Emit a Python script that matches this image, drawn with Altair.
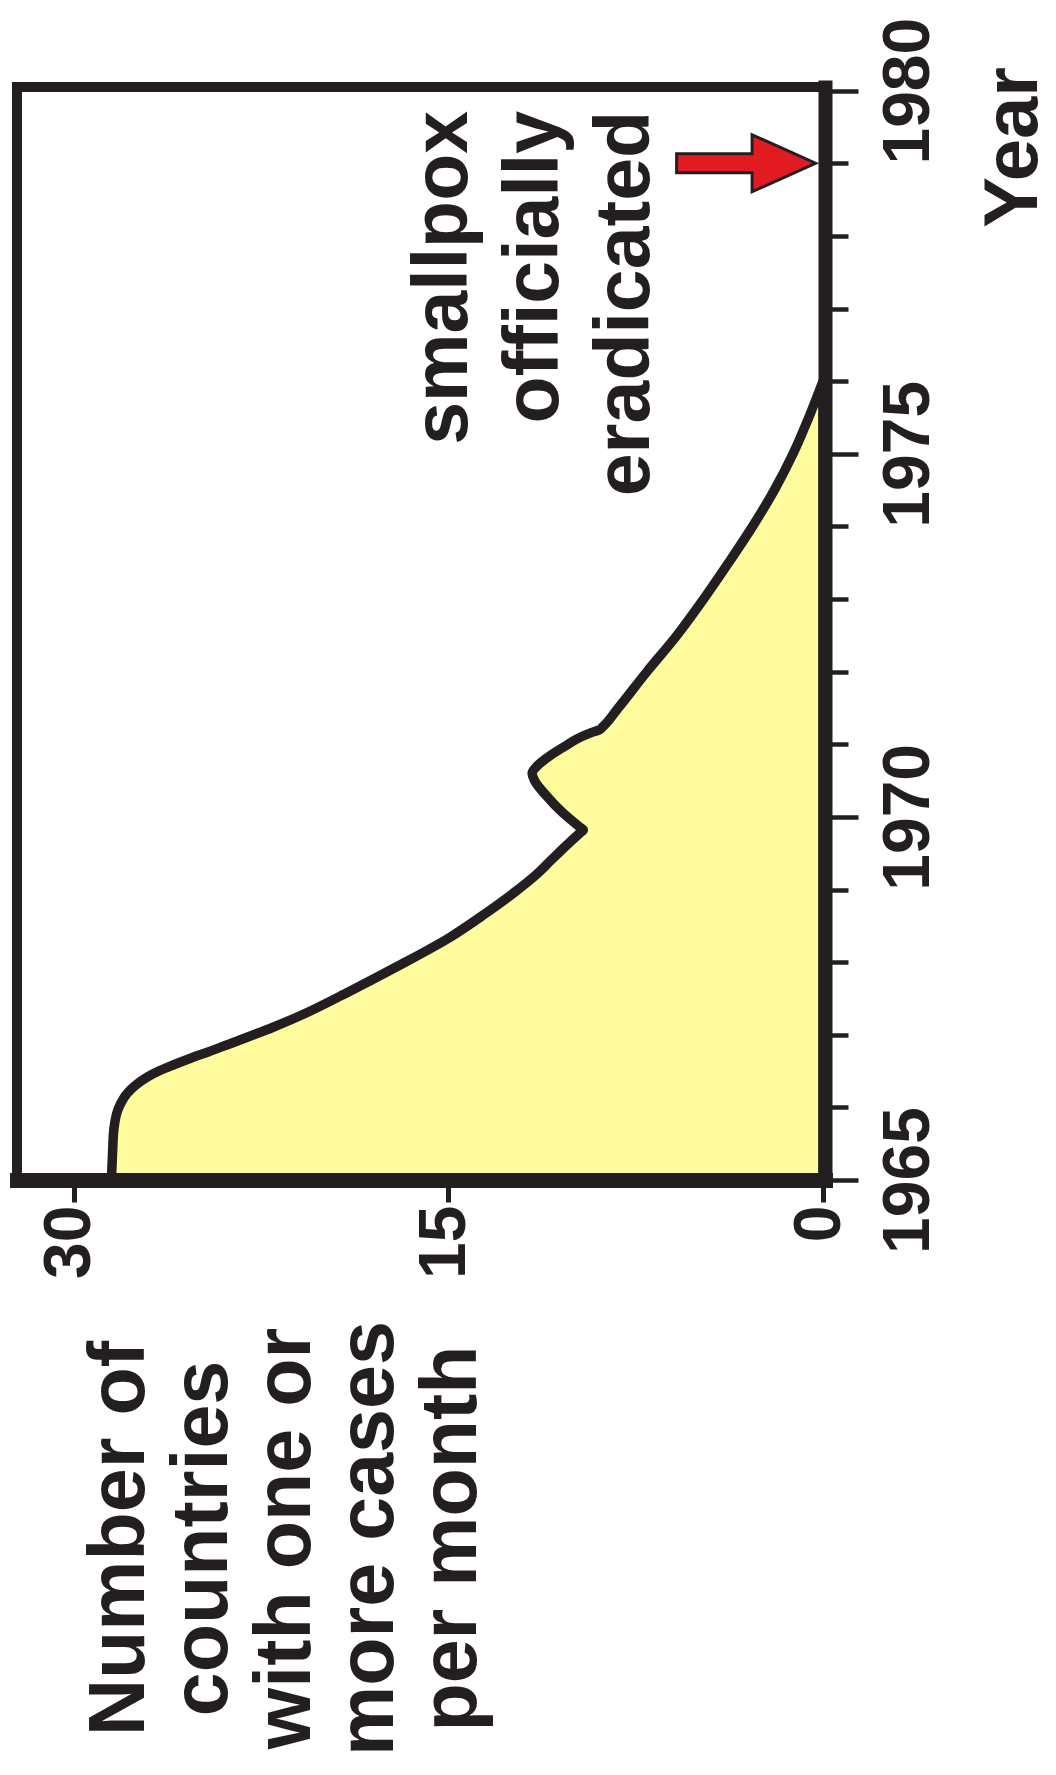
import altair as alt
import pandas as pd

# ---- data ----
years = [1965.0, 1965.4, 1965.7, 1966.0, 1966.2, 1966.3, 1966.42, 1966.5, 1966.58,
         1966.68, 1966.76, 1966.87, 1967.0, 1967.1, 1967.3, 1967.6, 1967.95, 1968.34,
         1968.65, 1968.95, 1969.2, 1969.4, 1969.6, 1969.78, 1969.82, 1969.86, 1970.05,
         1970.3, 1970.5, 1970.6, 1970.7, 1970.85, 1970.98, 1971.1, 1971.16, 1971.2,
         1971.24, 1971.5, 1972.0, 1972.5, 1973.0, 1973.5, 1974.0, 1974.5, 1975.0,
         1975.5, 1976.0]
countries = [28.5, 28.45, 28.4, 28.2, 27.85, 27.55, 27.05, 26.6, 26.05,
             25.3, 24.65, 23.8, 22.8, 22.05, 20.7, 18.95, 17.0, 14.95,
             13.6, 12.4, 11.5, 10.9, 10.3, 9.73, 9.6, 9.74, 10.4,
             11.1, 11.55, 11.65, 11.45, 10.9, 10.3, 9.7, 9.28, 8.95,
             8.82, 8.2, 7.05, 5.85, 4.78, 3.78, 2.82, 1.95, 1.2,
             0.57, 0.0]

value_ticks = [0, 15, 30]
year_ticks = list(range(1965, 1981))

eradication_year = [1979]
arrow_value = [3.08]

title_lines = ["Number of", "countries", "with one or", "more cases", "per month"]
note_lines = ["smallpox", "officially", "eradicated"]

INK = "#231F20"
FILL = "#FFFC9E"
RED = "#E21B23"
FONT = "Liberation Sans, Arial, Helvetica, sans-serif"

curve = pd.DataFrame({"year": years, "value": countries})
arrow = pd.DataFrame({"year": eradication_year, "value": arrow_value})

x_scale = alt.Scale(domain=[-0.08, 32.28], reverse=True, nice=False, zero=False)
y_scale = alt.Scale(domain=[1965, 1980.05], nice=False, zero=False)

x_axis = alt.Axis(
    orient="bottom", values=value_ticks, format="d",
    tickSize=22, tickWidth=5, tickColor=INK,
    domainWidth=15, domainColor=INK, domainCap="square",
    labelAngle=270, labelAlign="right", labelBaseline="middle",
    labelPadding=3, labelOffset=-4, labelFontSize=66, labelFont=FONT,
    labelFontWeight="bold", labelColor=INK, labelOverlap=False, labelFlush=False,
    labelBound=False, grid=False, zindex=1,
    title=title_lines, titleAngle=270, titleX=126, titleY=358,
    titleAlign="center", titleBaseline="alphabetic", titleLineHeight=83,
    titleFontSize=79, titleFont=FONT, titleFontWeight="bold", titleColor=INK,
)

y_axis = alt.Axis(
    orient="right", values=year_ticks, format="d",
    labelExpr="datum.value % 5 === 0 ? datum.label : ''",
    tickSize={"condition": {"test": "datum.value % 5 === 0", "value": 33}, "value": 23},
    tickWidth=4.5, tickColor=INK,
    domainWidth=14, domainColor=INK, domainCap="square",
    labelAngle=270, labelAlign="center", labelBaseline="top",
    labelPadding=18, labelFontSize=66, labelFont=FONT, labelFontWeight="bold",
    labelColor=INK, labelOverlap=False, labelFlush=False, labelBound=False,
    grid=False, zindex=1,
    title="Year", titleAngle=270, titleX=211, titleY=60,
    titleAlign="center", titleBaseline="alphabetic",
    titleFontSize=76, titleFont=FONT, titleFontWeight="bold", titleColor=INK,
)

area = alt.Chart(curve).mark_area(
    orient="horizontal", interpolate="monotone", fill=FILL,
    stroke=INK, strokeWidth=9.5, strokeJoin="round",
).encode(
    y=alt.Y("year:Q", scale=y_scale, axis=y_axis),
    x=alt.X("value:Q", scale=x_scale, axis=x_axis),
    x2=alt.datum(0),
)

arrow_path = ("M -1 -0.137 L 0.086 -0.137 L 0.086 -0.41 L 1 0 "
              "L 0.086 0.41 L 0.086 0.137 L -1 0.137 Z")
arrow_mark = alt.Chart(arrow).mark_point(
    shape=arrow_path, size=19321, filled=True, fill=RED, fillOpacity=1,
    stroke=INK, strokeWidth=3, opacity=1,
).encode(
    y=alt.Y("year:Q", scale=y_scale),
    x=alt.X("value:Q", scale=x_scale),
)

note = alt.Chart(pd.DataFrame({"t": [note_lines]})).mark_text(
    angle=270, align="right", baseline="alphabetic", lineHeight=91,
    fontSize=77, font=FONT, fontWeight="bold", color=INK,
).encode(
    text="t",
    x=alt.value(450),
    y=alt.value(24),
)

chart = alt.layer(area, arrow_mark, note).properties(
    width=808, height=1093,
    autosize=alt.AutoSizeParams(type="none"),
    padding={"left": 9, "top": 79, "right": 223, "bottom": 587},
    background="white",
).configure_view(
    stroke=INK, strokeWidth=10, fill="white",
)

chart.save("out.html", embed_options={"renderer": "svg", "actions": False})
